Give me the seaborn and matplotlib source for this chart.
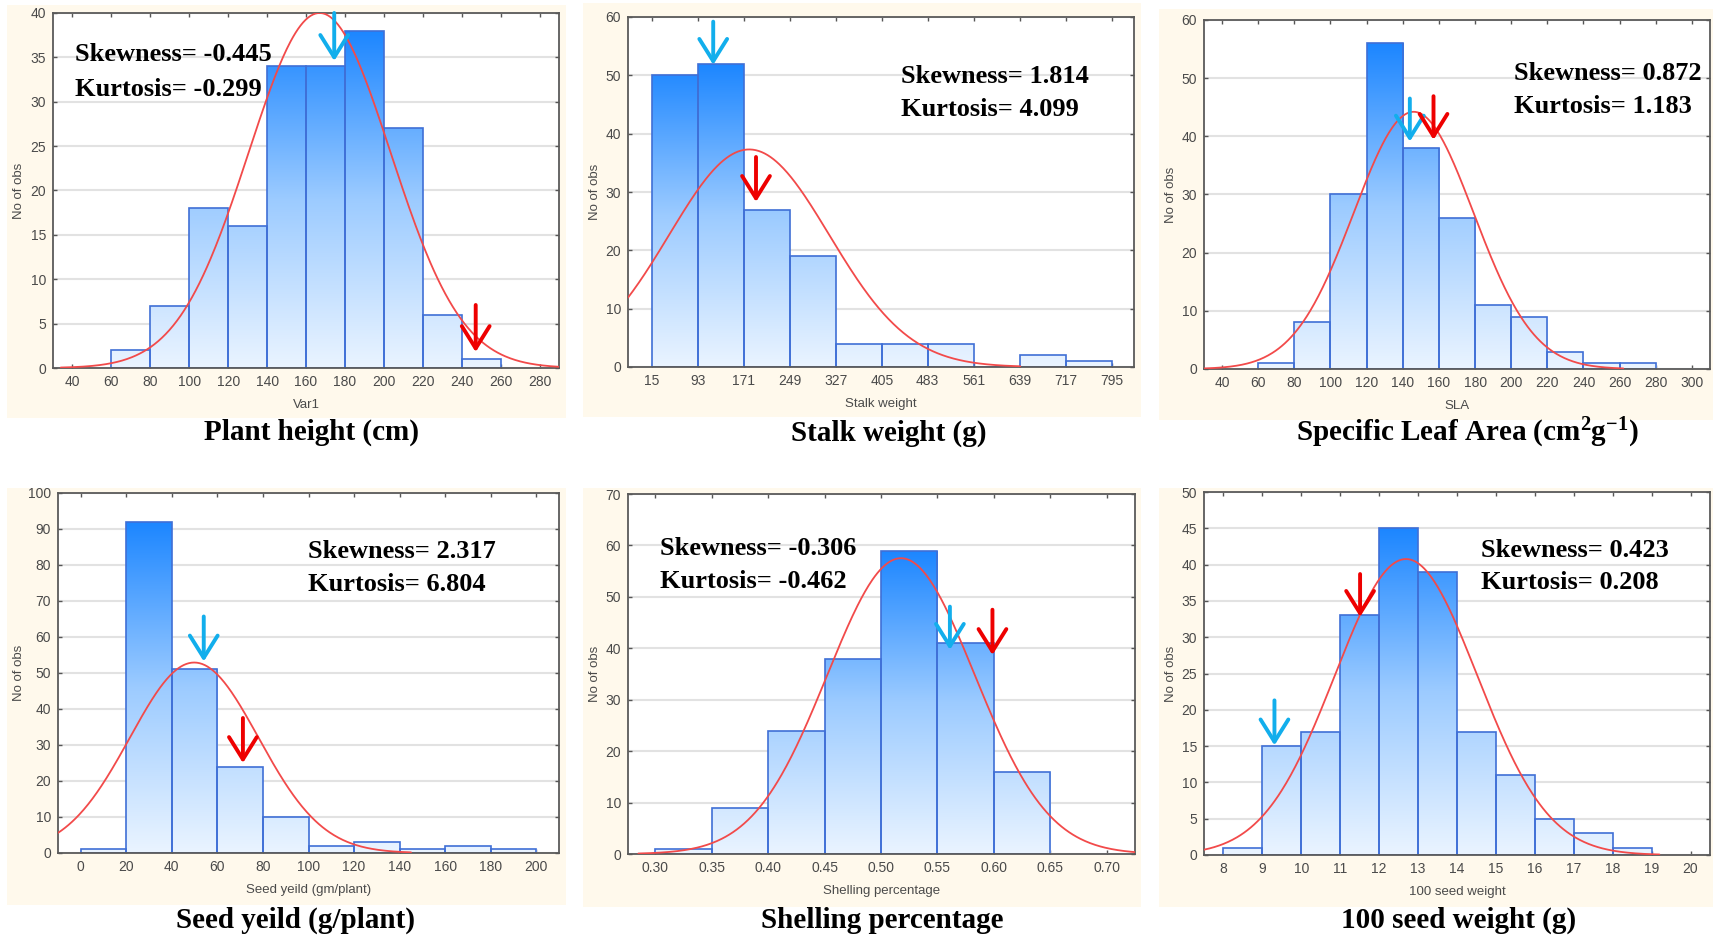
import numpy as np
import pandas as pd
import matplotlib
matplotlib.use("Agg")
import matplotlib.pyplot as plt
import seaborn as sns
from matplotlib.colors import LinearSegmentedColormap
from matplotlib.patches import Rectangle

sns.set_theme(style="white")
plt.rcParams["font.family"] = ["Liberation Sans", "DejaVu Sans"]
plt.rcParams["mathtext.fontset"] = "custom"
plt.rcParams["mathtext.rm"] = "Liberation Serif:bold"
plt.rcParams["mathtext.it"] = "Liberation Serif:bold"
plt.rcParams["mathtext.bf"] = "Liberation Serif:bold"

# ---------------- data ----------------
titles = ["Plant height (cm)", "Stalk weight (g)",
          "Specific Leaf Area (cm$^{2}$g$^{-1}$)",
          "Seed yeild (g/plant)", "Shelling percentage", "100 seed weight (g)"]
x_labels = ["Var1", "Stalk weight", "SLA", "Seed yeild (gm/plant)",
            "Shelling percentage", "100 seed weight"]
skewness = ["-0.445", "1.814", "0.872", "2.317", "-0.306", "0.423"]
kurtosis = ["-0.299", "4.099", "1.183", "6.804", "-0.462", "0.208"]

plant_height_edges = [60, 80, 100, 120, 140, 160, 180, 200, 220, 240, 260]
plant_height_counts = [2, 7, 18, 16, 34, 34, 38, 27, 6, 1]

stalk_weight_edges = [15, 93, 171, 249, 327, 405, 483, 561, 639, 717, 795]
stalk_weight_counts = [50, 52, 27, 19, 4, 4, 4, 0, 2, 1]

sla_edges = [60, 80, 100, 120, 140, 160, 180, 200, 220, 240, 260, 280]
sla_counts = [1, 8, 30, 56, 38, 26, 11, 9, 3, 1, 1]

seed_yield_edges = [0, 20, 40, 60, 80, 100, 120, 140, 160, 180, 200]
seed_yield_counts = [1, 92, 51, 24, 10, 2, 3, 1, 2, 1]

shelling_edges = [0.30, 0.35, 0.40, 0.45, 0.50, 0.55, 0.60, 0.65]
shelling_counts = [1, 9, 24, 38, 59, 41, 16]

seed_weight_edges = [8, 9, 10, 11, 12, 13, 14, 15, 16, 17, 18, 19]
seed_weight_counts = [1, 15, 17, 33, 45, 39, 17, 11, 5, 3, 1]

# fitted normal curves (mean, sd) and the x-range over which each is drawn
fit_mean = [167, 180, 146, 49.8, 0.5177, 12.69]
fit_sd = [36.5, 136, 33.2, 28.2, 0.0652, 1.83]
fit_range = [(34, 290), (-25.6, 640), (30, 262), (-10, 145), (0.285, 0.725), (7.5, 19.2)]

# axis ticks
x_ticks = [list(range(40, 281, 20)),
           list(range(15, 796, 78)),
           list(range(40, 301, 20)),
           list(range(0, 201, 20)),
           [0.30, 0.35, 0.40, 0.45, 0.50, 0.55, 0.60, 0.65, 0.70],
           list(range(8, 21))]
x_limits = [(30, 290), (-25.6, 833), (30, 310), (-10, 210), (0.2758, 0.725), (7.5, 20.5)]
y_ticks = [list(range(0, 41, 5)), list(range(0, 61, 10)), list(range(0, 61, 10)),
           list(range(0, 101, 10)), list(range(0, 71, 10)), list(range(0, 51, 5))]

# marker arrows (x position, arrow top, arrow tip)
blue_x = [174.5, 119, 143.9, 54, 0.561, 9.31]
blue_top = [40, 59.2, 46.5, 65.7, 48.1, 21.3]
blue_tip = [34.6, 51.8, 39.1, 53.2, 39.7, 15.1]
red_x = [247.2, 191.6, 157, 71.2, 0.5987, 11.51]
red_top = [7.1, 36, 46.9, 37.5, 47.5, 38.7]
red_tip = [1.8, 28.3, 39.4, 25, 38.7, 32.8]

all_edges = [plant_height_edges, stalk_weight_edges, sla_edges,
             seed_yield_edges, shelling_edges, seed_weight_edges]
all_counts = [plant_height_counts, stalk_weight_counts, sla_counts,
              seed_yield_counts, shelling_counts, seed_weight_counts]

# ---------------- layout (pixels) ----------------
W, H = 1713, 940
axes_px = [(53, 13, 559, 368), (628, 17, 1134, 367), (1204, 20, 1710, 369),
           (58, 493, 559, 853), (628, 494, 1135, 854), (1204, 492, 1710, 855)]
panel_px = [(7, 5, 566, 418), (583, 3, 1141, 417), (1159, 9, 1713, 420),
            (7, 488, 566, 905), (583, 488, 1141, 907), (1159, 488, 1713, 907)]
title_px = [(311, 432), (889, 433), (1467, 433), (296, 920), (882, 920), (1459, 920)]
ylabel_off = [-34, -33, -33, -39, -33, -33]
text_pos = [(0.043, 0.882, 0.784), (0.54, 0.83, 0.735), (0.613, 0.847, 0.752),
            (0.50, 0.838, 0.745), (0.063, 0.849, 0.757), (0.547, 0.839, 0.752)]

cmap = LinearSegmentedColormap.from_list("bars", ["#EAF4FF", "#9CCBFF", "#1C86FF"])
grad = np.linspace(0, 1, 256).reshape(-1, 1)

fig = plt.figure(figsize=(W / 100, H / 100), dpi=100)
fig.patch.set_facecolor("white")

arrow_style = "->,head_length=0.8,head_width=0.5"

for i in range(6):
    px0, py0, px1, py1 = panel_px[i]
    fig.add_artist(Rectangle((px0 / W, 1 - py1 / H), (px1 - px0) / W, (py1 - py0) / H,
                             transform=fig.transFigure, facecolor="#FFF9EC",
                             edgecolor="none", zorder=-1))

    l, t, r, b = axes_px[i]
    ax = fig.add_axes([l / W, 1 - b / H, (r - l) / W, (b - t) / H])
    ax.set_facecolor("white")

    edges = [float(e) for e in all_edges[i]]
    counts = np.array(all_counts[i], dtype=float)
    centers = [(edges[k] + edges[k + 1]) / 2 for k in range(len(edges) - 1)]
    df = pd.DataFrame({"value": centers, "n": counts})

    sns.histplot(data=df, x="value", weights="n", bins=edges, ax=ax, stat="count",
                 color="#5AA8FF", edgecolor="#3F6FD6", linewidth=1.2, alpha=1, zorder=2)
    bars = list(ax.patches)
    ymax = counts.max()
    for p in bars:
        h = p.get_height()
        p.set_facecolor("none")
        p.set_edgecolor("#3F6FD6")
        if h <= 0:
            continue
        x0 = p.get_x()
        im = ax.imshow(grad, cmap=cmap, origin="lower", aspect="auto",
                       extent=(x0, x0 + p.get_width(), 0, ymax), vmin=0, vmax=1,
                       zorder=1.5, interpolation="bilinear")
        im.set_clip_path(p)

    # fitted normal curve
    lo, hi = fit_range[i]
    width = edges[1] - edges[0]
    xs = np.linspace(lo, hi, 400)
    ys = counts.sum() * width / (fit_sd[i] * np.sqrt(2 * np.pi)) * \
        np.exp(-0.5 * ((xs - fit_mean[i]) / fit_sd[i]) ** 2)
    sns.lineplot(x=xs, y=ys, ax=ax, color="#F24A4A", linewidth=1.3, zorder=3)

    # arrows
    ax.annotate("", xy=(blue_x[i], blue_tip[i]), xytext=(blue_x[i], blue_top[i]),
                arrowprops=dict(arrowstyle=arrow_style, color="#12AEEC", lw=2.8,
                                shrinkA=0, shrinkB=0, mutation_scale=20),
                zorder=4, annotation_clip=False)
    ax.annotate("", xy=(red_x[i], red_tip[i]), xytext=(red_x[i], red_top[i]),
                arrowprops=dict(arrowstyle=arrow_style, color="#EE0000", lw=2.8,
                                shrinkA=0, shrinkB=0, mutation_scale=20),
                zorder=4, annotation_clip=False)

    # skewness / kurtosis text
    tx, ty1, ty2 = text_pos[i]
    ax.text(tx, ty1, f"Skewness= {skewness[i]}", transform=ax.transAxes,
            family="Liberation Serif", fontweight="bold", fontsize=19,
            va="center", ha="left", color="black", zorder=5)
    ax.text(tx, ty2, f"Kurtosis= {kurtosis[i]}", transform=ax.transAxes,
            family="Liberation Serif", fontweight="bold", fontsize=19,
            va="center", ha="left", color="black", zorder=5)

    # axes styling
    ax.set_xlim(*x_limits[i])
    ax.set_ylim(y_ticks[i][0], y_ticks[i][-1])
    ax.set_xticks(x_ticks[i])
    if i == 4:
        ax.set_xticklabels([f"{v:.2f}" for v in x_ticks[i]])
    else:
        ax.set_xticklabels([str(v) for v in x_ticks[i]])
    ax.set_yticks(y_ticks[i])
    ax.set_axisbelow(True)
    ax.yaxis.grid(True, color="#E2E2E2", linewidth=1.5, zorder=0)
    ax.xaxis.grid(False)
    ax.tick_params(axis="both", direction="in", length=3, width=1, color="#555555",
                   labelcolor="#4A4A4A", labelsize=10, pad=5,
                   top=True, right=True, bottom=True, left=True)
    for s in ax.spines.values():
        s.set_color("#5A5A5A")
        s.set_linewidth(1.3)
        s.set_visible(True)

    axw = r - l
    axh = b - t
    ax.set_ylabel("No of obs", fontsize=9.5, color="#4A4A4A")
    ax.yaxis.set_label_coords(ylabel_off[i] / axw, 0.5)
    ax.yaxis.label.set_va("center")
    ax.set_xlabel(x_labels[i], fontsize=9.5, color="#4A4A4A")
    ax.xaxis.set_label_coords(0.5, -37 / axh)
    ax.xaxis.label.set_va("center")

    tx_px, ty_px = title_px[i]
    fig.text(tx_px / W, 1 - ty_px / H, titles[i], ha="center", va="center",
             family="Liberation Serif", fontweight="bold", fontsize=21, color="black")

fig.savefig("out.png", dpi=100, facecolor="white")
